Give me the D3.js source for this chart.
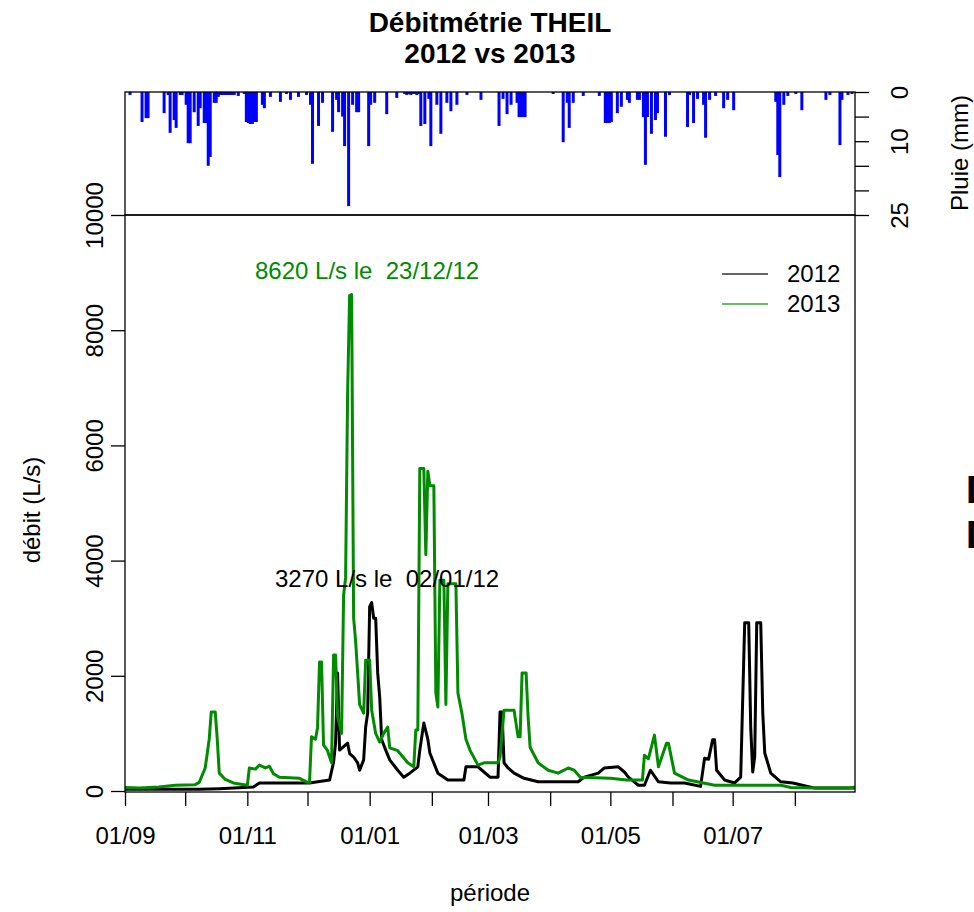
<!DOCTYPE html>
<html>
<head>
<meta charset="utf-8">
<script src="https://cdn.jsdelivr.net/npm/d3@7"></script>
<style>
  body { margin: 0; background: #fff; }
  svg { display: block; font-family: "Liberation Sans", Arial, sans-serif; }
  text { white-space: pre; }
</style>
</head>
<body>
<svg id="chart" width="974" height="912"></svg>
<script>
// days are counted from 1 September of each season
const q2013Days = [0,7,17,25,35,37,40,42,43,45,46,47,50,54,61,62,65,67,70,72,74,77,82,87,91,92,93,95,96,97,98,99,101,103,104,105,106,108,109,110,111,112,113,114,115,117,119,120,122,123,125,127,129,131,132,136,141,144,145,146,147,149,150,151,152,154,155,156,157,159,160,161,165,166,168,170,172,176,179,186,187,189,194,196,197,198,200,201,202,206,211,216,221,224,227,242,250,258,259,261,264,266,270,271,274,281,294,327,332,344,361,364];
const q2013 = [60,50,70,100,110,150,400,900,1370,1370,900,310,200,140,100,400,380,450,400,430,300,240,230,220,150,150,940,900,1100,2240,2240,800,700,490,2360,2360,1300,1000,3400,3700,6900,8600,8620,3000,2600,1500,1350,2270,2270,1400,1000,850,1000,1110,750,700,490,420,1060,1060,5600,5600,4100,5550,5300,5300,1700,1460,3660,3660,1500,3600,3600,1700,1350,900,710,450,490,490,590,1400,1400,940,940,2050,2050,1290,760,490,360,310,400,360,240,220,190,190,620,560,970,420,830,830,310,190,100,100,60,50,50,70];

const q2012Days = [0,22,37,47,64,67,92,102,104,105,106,107,111,112,114,116,117,119,120,121,122,123,124,125,126,127,128,130,132,136,139,142,146,147,149,151,152,156,161,169,170,176,179,182,186,187,188,189,191,194,199,206,226,229,236,239,246,249,251,256,259,262,266,272,279,287,289,291,293,294,295,299,304,307,309,311,312,313,314,315,317,318,319,322,327,333,344,361,364];
const q2012 = [30,30,30,40,70,140,140,190,500,830,2050,710,830,650,590,490,360,540,1110,1350,3200,3270,3000,3000,2050,1630,890,710,540,360,240,310,420,710,1180,900,660,310,190,190,420,420,330,240,240,1370,1370,490,400,310,220,160,160,240,310,400,420,330,240,100,100,360,160,140,140,80,570,550,890,890,360,190,140,240,2920,2920,1110,330,600,2920,2920,1370,660,310,160,140,50,50,50];

const rainDays = [2,8,10,11,19,21,22,24,25,27,28,30,31,32,34,36,37,39,40,41,42,44,45,46,47,48,49,50,51,52,53,54,56,59,60,61,62,63,64,65,68,69,72,77,80,82,86,90,92,93,96,98,103,105,106,108,109,111,113,115,116,121,122,124,130,135,139,140,141,142,143,144,145,146,147,149,151,152,155,157,160,162,165,170,177,186,188,190,192,195,196,197,198,199,213,218,220,221,223,228,236,239,240,241,242,245,247,250,251,255,256,258,259,260,262,264,265,269,271,280,281,283,285,288,289,291,294,298,300,303,324,325,326,328,330,334,337,349,351,356,357,360,362];
const rainMm = [0.6,6.1,5.3,5.3,4.3,0.6,8.3,5.7,7.3,0.6,0.6,2.6,10.4,10.4,4.1,6.9,3.3,6.3,6.3,15,13.2,2.2,2.2,1.0,0.6,0.6,0.6,0.6,0.6,0.6,0.6,0.6,0.8,0.4,6.1,6.3,6.5,6.5,6.1,6.1,2.6,3.3,1.0,2.0,0.4,1.6,1.0,0.6,2.6,14.6,6.9,2.2,8.1,1.6,4.1,5.0,11,23.2,2.6,4.1,4.1,11,2.6,2.2,4.5,1.2,0.4,0.6,0.4,0.6,0.4,0.4,0.6,0.4,6.9,6.5,1.4,11,2.6,8.5,2.2,3.9,2.6,0.6,1.6,6.9,1.4,4.5,2.6,2.2,5.1,5.1,5.1,5.1,0.4,10.2,2.2,7.3,2.2,0.8,0.8,6.3,6.3,6.3,6.1,4.3,3.0,1.6,2.2,1.6,1.6,5.1,14.8,5.1,8.5,5.7,4.3,9.1,0.6,7.1,0.6,6.3,1.4,2.6,9.3,1.6,0.8,3.3,1.6,3.7,2.0,12.8,17.3,2.6,0.8,0.4,3.7,1.6,0.6,10.8,1.6,0.6,0.4];

const seasons = ["2012", "2013"];
const seasonStartYear = [2011, 2012];
const seasonColors = ["#000000", "#008b00"];
const flowTicks = [0, 2000, 4000, 6000, 8000, 10000];
const rainTicks = [0, 5, 10, 15, 20, 25];
const rainTickLabels = [0, 10, 25];
const monthLabels = ["01/09", "01/11", "01/01", "01/03", "01/05", "01/07"];

const svg = d3.select("#chart");
const left = 125, right = 855, rainTop = 92, rainBottom = 215, plotBottom = 792;
const fontSize = 24;

const day = d => new Date(2012, 8, 1 + d);
const x = d3.scaleTime().domain([day(0), day(364)]).range([left, right]);
const y = d3.scaleLinear().domain([0, 10000]).range([plotBottom - 1, rainBottom]);
const yRain = d3.scaleLinear().domain([0, 25]).range([rainTop, rainBottom]);

// rain bars hanging from the top (type "h", thick)
const rain = rainDays.map((d, i) => ({ d, mm: rainMm[i] }));
svg.append("g").selectAll("rect")
  .data(rain)
  .join("rect")
  .attr("x", p => x(day(p.d)) - 0.5)
  .attr("width", 3)
  .attr("y", rainTop)
  .attr("height", p => yRain(p.mm) - rainTop)
  .attr("fill", "#0000ff");

// flow lines
const series = [
  q2012Days.map((d, i) => ({ d, v: q2012[i] })),
  q2013Days.map((d, i) => ({ d, v: q2013[i] }))
];
const line = d3.line().x(p => x(day(p.d))).y(p => y(p.v));
series.forEach((s, i) => {
  svg.append("path")
    .datum(s)
    .attr("d", line)
    .attr("fill", "none")
    .attr("stroke", seasonColors[i])
    .attr("stroke-width", 3)
    .attr("stroke-linejoin", "round");
});

// boxes
svg.append("rect").attr("x", left).attr("y", rainTop).attr("width", right - left).attr("height", rainBottom - rainTop)
  .attr("fill", "none").attr("stroke", "#000").attr("stroke-width", 1.3);
svg.append("rect").attr("x", left).attr("y", rainBottom).attr("width", right - left).attr("height", plotBottom - rainBottom)
  .attr("fill", "none").attr("stroke", "#000").attr("stroke-width", 1.3);

// left axis
svg.append("g")
  .attr("transform", `translate(${left},0)`)
  .call(d3.axisLeft(y).tickValues(flowTicks).tickSize(14).tickSizeOuter(0).tickFormat(d3.format("d")))
  .call(g => g.select(".domain").remove())
  .call(g => g.selectAll("line").attr("stroke-width", 1.3))
  .call(g => g.selectAll("text")
    .attr("transform", "rotate(-90)")
    .attr("x", 0).attr("y", -22).attr("dy", 0)
    .attr("text-anchor", "middle")
    .attr("font-size", fontSize).attr("fill", "#000"));

// bottom axis
const fmtMonth = d3.timeFormat("%d/%m");
svg.append("g")
  .attr("transform", `translate(0,${plotBottom})`)
  .call(d3.axisBottom(x)
    .tickValues(d3.timeMonth.range(day(0), day(365)))
    .tickSize(14).tickSizeOuter(0)
    .tickFormat(d => monthLabels.includes(fmtMonth(d)) ? fmtMonth(d) : ""))
  .call(g => g.select(".domain").remove())
  .call(g => g.selectAll("line").attr("stroke-width", 1.3))
  .call(g => g.selectAll("text").attr("y", 35).attr("font-size", fontSize).attr("fill", "#000"));

// right rain axis
svg.append("g")
  .attr("transform", `translate(${right},0)`)
  .call(d3.axisRight(yRain).tickValues(rainTicks).tickSize(14).tickSizeOuter(0)
    .tickFormat(d => rainTickLabels.includes(d) ? d : ""))
  .call(g => g.select(".domain").remove())
  .call(g => g.selectAll("line").attr("stroke-width", 1.3))
  .call(g => g.selectAll("text")
    .attr("transform", "rotate(-90)")
    .attr("x", 0).attr("y", 53).attr("dy", 0)
    .attr("text-anchor", "middle")
    .attr("font-size", fontSize).attr("fill", "#000"));

// axis titles
svg.append("text").attr("transform", "translate(40,510) rotate(-90)")
  .attr("text-anchor", "middle").attr("font-size", fontSize).text("débit (L/s)");
svg.append("text").attr("x", (left + right) / 2).attr("y", 901)
  .attr("text-anchor", "middle").attr("font-size", fontSize).text("période");
svg.append("text").attr("transform", "translate(968,153) rotate(-90)")
  .attr("text-anchor", "middle").attr("font-size", fontSize).text("Pluie (mm)");

// title
const title = svg.append("text").attr("text-anchor", "middle").attr("font-size", 28).attr("font-weight", "bold");
title.append("tspan").attr("x", (left + right) / 2).attr("y", 32).text("Débitmétrie THEIL");
title.append("tspan").attr("x", (left + right) / 2).attr("y", 63).text("2012 vs 2013");

// peak annotations
const fmtDate = d3.timeFormat("%d/%m/%y");
const annotPos = [[275, 587], [255, 279]];
series.forEach((s, i) => {
  const top = s.reduce((a, b) => (b.v > a.v ? b : a));
  const when = new Date(seasonStartYear[i], 8, 1 + top.d);
  svg.append("text")
    .attr("x", annotPos[i][0]).attr("y", annotPos[i][1])
    .attr("font-size", fontSize).attr("fill", seasonColors[i])
    .text(`${top.v} L/s le  ${fmtDate(when)}`);
});

// legend
const legend = svg.append("g");
seasons.forEach((name, i) => {
  const ly = 274 + i * 30;
  legend.append("line").attr("x1", 722).attr("x2", 768).attr("y1", ly).attr("y2", ly)
    .attr("stroke", i === 0 ? "#333" : "#33aa33").attr("stroke-width", 1.6);
  legend.append("text").attr("x", 787).attr("y", ly).attr("dy", "0.35em")
    .attr("font-size", fontSize).text(name);
});

// labels clipped by the right edge of the page, as in the source image
["D", "D"].forEach((t, i) => {
  svg.append("text").attr("x", 966).attr("y", 503 + i * 45)
    .attr("font-size", 38).attr("font-weight", "bold").text(t);
});
</script>
</body>
</html>
